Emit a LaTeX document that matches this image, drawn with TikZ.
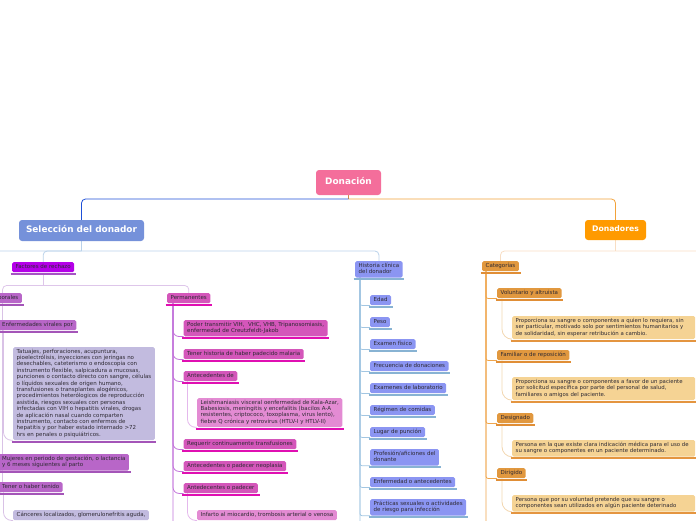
\documentclass[tikz,border=0pt]{standalone}
\usepackage{fontspec}
\setmainfont{DejaVu Sans}
\usepackage{tikz}
\usetikzlibrary{positioning,backgrounds}

\definecolor{ink}{HTML}{2E2A33}
\definecolor{cRoot}{HTML}{F46E9B}
\definecolor{cSel}{HTML}{7591DA}
\definecolor{cDon}{HTML}{FF9A00}
\definecolor{lBlue}{HTML}{1E50D8}
\definecolor{lOrange}{HTML}{F2A23A}
\definecolor{lStub}{HTML}{D4894A}
\definecolor{lSel}{HTML}{BAD2EA}
\definecolor{lDon}{HTML}{F8DEC4}
\definecolor{lFr}{HTML}{DEC6EA}
\definecolor{lTemp}{HTML}{D9C2E6}
\definecolor{lPerm}{HTML}{C274DA}
\definecolor{lSub}{HTML}{E4B8EC}
\definecolor{lHc}{HTML}{A2C6E2}
\definecolor{lCat}{HTML}{EFA54C}
\definecolor{lDesc}{HTML}{F2D6AF}
\definecolor{fFr}{HTML}{B400E8}
\definecolor{uFr}{HTML}{A652C4}
\definecolor{fTemp}{HTML}{B866C8}
\definecolor{uTemp}{HTML}{A455B8}
\definecolor{fTat}{HTML}{C2BBDF}
\definecolor{fPerm}{HTML}{D456BA}
\definecolor{uPerm}{HTML}{E00FB2}
\definecolor{fLeish}{HTML}{E38BD3}
\definecolor{fHc}{HTML}{8B95F2}
\definecolor{uHc}{HTML}{88B3D3}
\definecolor{fCat}{HTML}{E1983F}
\definecolor{uCat}{HTML}{E08E36}
\definecolor{fDesc}{HTML}{F5D394}
\definecolor{uDesc}{HTML}{E49540}

\begin{document}
\begin{tikzpicture}[x=1pt, y=-1pt,
  every node/.style={anchor=north west, rounded corners=1.5pt, inner xsep=3.5pt, inner ysep=1.8pt, align=left, text=ink,
    font=\fontsize{5.5}{6.4}\selectfont, execute at begin node=\strut, execute at end node=\strut},
  hub/.style={anchor=center, rounded corners=3pt, inner sep=0pt, text=white, font=\fontsize{8.9}{10}\selectfont\bfseries},
  frbox/.style={fill=fFr}, tempbox/.style={fill=fTemp}, tatbox/.style={fill=fTat},
  permbox/.style={fill=fPerm}, leishbox/.style={fill=fLeish}, hcbox/.style={fill=fHc},
  catbox/.style={fill=fCat}, descbox/.style={fill=fDesc, text width=176pt, font=\fontsize{5.4}{6.4}\selectfont},
  ul/.style={line width=2pt},
  link/.style={line width=0.8pt, rounded corners=#1}, link/.default=3pt
]
\useasboundingbox (0,0) rectangle (696,520);
\clip (0,0) rectangle (696,520);

% main topics
\node[hub, fill=cRoot, minimum width=65pt, minimum height=25pt] (root) at (348.5,182.5) {Donación};
\node[hub, fill=cSel, minimum width=125pt, minimum height=21pt] (sel) at (81.5,230.5) {Selección del donador};
\node[hub, fill=cDon, minimum width=61pt, minimum height=20pt, font=\fontsize{7.7}{9}\selectfont\bfseries] (don) at (615.5,230) {Donadores};

% factores de rechazo
\node[frbox] (fr) at (12,262) {Factores de rechazo};
\node[tempbox, anchor=north east] (temp) at (22,293) {Temporales};
\node[permbox] (perm) at (167,293) {Permanentes};

\node[tempbox] (ev) at (-1.5,320) {Enfermedades virales por};
\node[tatbox] (tat) at (13,347) {Tatuajes, perforaciones, acupuntura,\\
  pioelectrólisis, inyecciones con jeringas no\\
  desechables, cateterismo o endoscopia con\\
  instrumento flexible, salpicadura a mucosas,\\
  punciones o contacto directo con sangre, células\\
  o líquidos sexuales de origen humano,\\
  transfusiones o transplantes alogénicos,\\
  procedimientos heterólogicos de reproducción\\
  asistida, riesgos sexuales con personas\\
  infectadas con VIH o hepatitis virales, drogas\\
  de aplicación nasal cuando comparten\\
  instrumento, contacto con enfermos de\\
  hepatitis y por haber estado internado >72\\
  hrs en penales o psiquiátricos.};
\node[tempbox] (muj) at (-1.5,454) {Mujeres en periodo de gestación, o lactancia\\y 6 meses siguientes al parto};
\node[tempbox] (tener) at (-1.5,482) {Tener o haber tenido};
\node[tatbox] (canc) at (13,510) {Cánceres localizados, glomerulonefritis aguda,};

\node[permbox] (ptv) at (183.5,320) {Poder transmitir VIH,~ VHC, VHB, Tripanosomiasis,\\enfermedad de Creutzfeldt-Jakob};
\node[permbox] (mal) at (183.5,349) {Tener historia de haber padecido malaria};
\node[permbox] (antde) at (183.5,371) {Antecedentes de};
\node[leishbox] (leish) at (197,398) {Leishmaniasis visceral oenfermedad de Kala-Azar,\\
  Babesiosis, meningitis y encefalitis (bacilos A-A\\
  resistentes, criptococo, toxoplasma, virus lento),\\
  fiebre Q crónica y retrovirus (HTLV-I y HTLV-II)};
\node[permbox] (req) at (183.5,439) {Requerir continuamente transfusiones};
\node[permbox] (neo) at (183.5,461) {Antecedentes o padecer neoplasia};
\node[permbox] (antp) at (183.5,483) {Antedecentes o padecer};
\node[leishbox] (inf) at (197,510) {Infarto al miocardio, trombosis arterial o venosa};

% historia clinica
\node[hcbox] (hc) at (355,261) {Historia clínica\\del donador};
\node[hcbox] (edad) at (370,295) {Edad};
\node[hcbox] (peso) at (370,317) {Peso};
\node[hcbox] (exf) at (370,339) {Examen físico};
\node[hcbox] (frec) at (370,361) {Frecuencia de donaciones};
\node[hcbox] (exl) at (370,383) {Examenes de laboratorio};
\node[hcbox] (reg) at (370,405) {Régimen de comidas};
\node[hcbox] (lug) at (370,427) {Lugar de punción};
\node[hcbox] (prof) at (370,449) {Profesión/aficiones del\\donante};
\node[hcbox] (enf) at (370,477) {Enfermedad o antecedentes};
\node[hcbox] (prac) at (370,499) {Prácticas sexuales o actividades\\de riesgo para infección};

% donadores
\node[catbox] (cat) at (482,261) {Categorías};
\node[catbox] (vol) at (497,288) {Voluntario y altruista};
\node[descbox] (volD) at (512,316) {Proporciona su sangre o componentes a quien lo requiera, sin\\
  ser particular, motivado solo por sentimientos humanitarios y\\
  de solidaridad, sin esperar retribución a cambio.};
\node[catbox] (fam) at (497,350) {Familiar o de reposición};
\node[descbox] (famD) at (512,377) {Proporciona su sangre o componentes a favor de un paciente\\
  por solicitud específica por parte del personal de salud,\\
  familiares o amigos del paciente.};
\node[catbox] (des) at (497,413) {Designado};
\node[descbox] (desD) at (512,440) {Persona en la que existe clara indicación médica para el uso de\\
  su sangre o componentes en un paciente determinado.};
\node[catbox] (dir) at (497,468) {Dirigido};
\node[descbox] (dirD) at (512,495) {Persona que por su voluntad pretende que su sangre o\\
  componentes sean utilizados en algún paciente deterinado};

% underlines
\foreach \n in {fr} \draw[ul, uFr] ([shift={(-1.5pt,-1.5pt)}]\n.south west) -- ([shift={(1.5pt,-1.5pt)}]\n.south east);
\foreach \n in {temp,ev,muj,tener,tat,canc} \draw[ul, uTemp] ([shift={(-1.5pt,-1.5pt)}]\n.south west) -- ([shift={(1.5pt,-1.5pt)}]\n.south east);
\foreach \n in {perm,ptv,mal,antde,leish,req,neo,antp,inf} \draw[ul, uPerm] ([shift={(-1.5pt,-1.5pt)}]\n.south west) -- ([shift={(1.5pt,-1.5pt)}]\n.south east);
\foreach \n in {hc,edad,peso,exf,frec,exl,reg,lug,prof,enf,prac} \draw[ul, uHc] ([shift={(-1.5pt,-1.5pt)}]\n.south west) -- ([shift={(1.5pt,-1.5pt)}]\n.south east);
\foreach \n in {cat,vol,fam,des,dir} \draw[ul, uCat] ([shift={(-1.5pt,-1.5pt)}]\n.south west) -- ([shift={(1.5pt,-1.5pt)}]\n.south east);
\foreach \n in {volD,famD,desD,dirD} \draw[ul, uDesc] ([shift={(-1.5pt,-1.5pt)}]\n.south west) -- ([shift={(1.5pt,-1.5pt)}]\n.south east);

% junction rows and branches that leave the page
\coordinate (r0) at (0,199);
\coordinate (r1) at (0,251);
\coordinate (r2) at (0,285.5);
\coordinate (offL) at (-14,262);
\coordinate (offR) at (712,262);
\coordinate (permMore) at (183,530);
\coordinate (hcMore) at (370,530);
\coordinate (catMore) at (497,530);

\begin{scope}[on background layer]
  \draw[link, lStub] (root.south) -- (root.south |- r0);
  \draw[link=4pt, lBlue] (root.south |- r0) -| (sel.north);
  \draw[link=4pt, lOrange] (root.south |- r0) -| (don.north);

  \draw[link, lSel] (sel.south) -- (sel.south |- r1);
  \foreach \c in {fr,hc,offL} \draw[link=4pt, lSel] (sel.south |- r1) -| (\c.north);
  \draw[link, lDon] (don.south) -- (don.south |- r1);
  \foreach \c in {cat,offR} \draw[link=4pt, lDon] (don.south |- r1) -| (\c.north);

  \draw[link, lFr] ([yshift=-2.5pt]fr.south) -- (fr.south |- r2);
  \foreach \c in {temp,perm} \draw[link=4pt, lFr] (fr.south |- r2) -| (\c.north);

  \foreach \c in {ev,muj,tener} \draw[link, lTemp] (temp.south) |- (\c.south west);
  \draw[link=8pt, lTemp] ([xshift=5pt]ev.south west) |- (tat.south west);
  \draw[link=8pt, lTemp] ([xshift=5pt]tener.south west) |- (canc.south west);

  \foreach \c in {ptv,mal,antde,req,neo,antp,permMore} \draw[link=6pt, lPerm] ([xshift=6pt]perm.south west) |- (\c.south west);
  \draw[link=8pt, lSub] ([xshift=4pt]antde.south west) |- (leish.south west);
  \draw[link=8pt, lSub] ([xshift=4pt]antp.south west) |- (inf.south west);

  \foreach \c in {edad,peso,exf,frec,exl,reg,lug,prof,enf,prac,hcMore} \draw[link=2pt, lHc] ([xshift=5pt]hc.south west) |- (\c.south west);

  \foreach \c in {vol,fam,des,dir,catMore} \draw[link=2pt, lCat] ([xshift=4pt]cat.south west) |- (\c.south west);
  \foreach \a/\b in {vol/volD,fam/famD,des/desD,dir/dirD} \draw[link=10pt, lDesc] ([xshift=5pt]\a.south west) |- (\b.south west);
\end{scope}
\end{tikzpicture}
\end{document}
